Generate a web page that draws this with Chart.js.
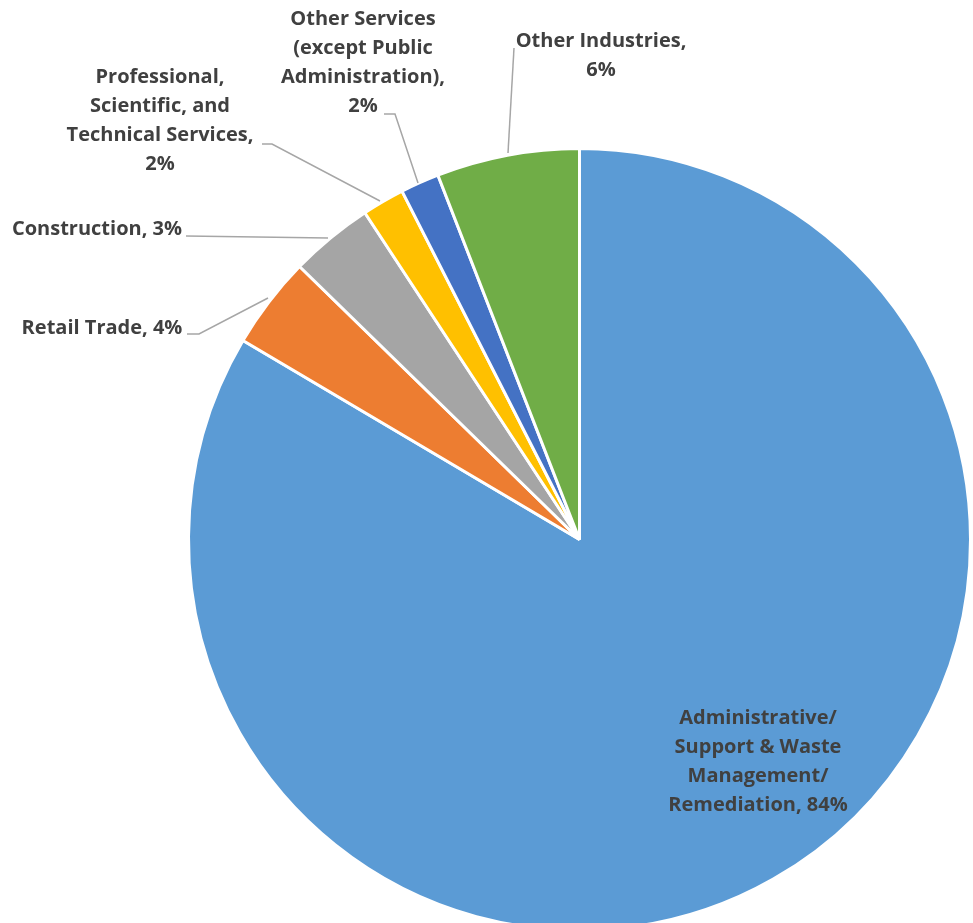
<!DOCTYPE html>
<html>
<head>
<meta charset="utf-8">
<script src="https://cdn.jsdelivr.net/npm/chart.js@4.4.1/dist/chart.umd.min.js"></script>
<style>
    html, body { margin: 0; padding: 0; background: #fff; overflow: hidden; }
    #wrap { position: absolute; left: 0; top: 0; width: 973px; height: 943px; }
</style>
</head>
<body>
<div id="wrap"><canvas id="pieChart"></canvas></div>
<script>
    // chart data
    const industries = [
        'Administrative/ Support & Waste Management/ Remediation',
        'Retail Trade',
        'Construction',
        'Professional, Scientific, and Technical Services',
        'Other Services (except Public Administration)',
        'Other Industries'
    ];
    const shares = [83.5, 3.8, 3.45, 1.75, 1.6, 5.9];
    const sliceColors = ['#5B9BD5', '#ED7D31', '#A5A5A5', '#FFC000', '#4472C4', '#70AD47'];

    // label layout: wrapped lines, centre x, first line y, leader line points
    const labelLayout = [
        { lines: ['Administrative/', 'Support & Waste', 'Management/', 'Remediation, {p}'], x: 758, y: 718, leader: null },
        { lines: ['Retail Trade, {p}'], x: 102, y: 328, leader: [[187, 334], [199, 334], [268, 298]] },
        { lines: ['Construction, {p}'], x: 97, y: 229, leader: [[186, 236], [328, 238]] },
        { lines: ['Professional,', 'Scientific, and', 'Technical Services,', '{p}'], x: 160, y: 77, leader: [[262, 144], [272, 144], [380, 201]] },
        { lines: ['Other Services', '(except Public', 'Administration),', '{p}'], x: 363, y: 19, leader: [[384, 114], [395, 114], [418, 183]] },
        { lines: ['Other Industries,', '{p}'], x: 601, y: 41, leader: [[514, 48], [508, 153]] }
    ];

    const labelPlugin = {
        id: 'pieLabels',
        afterDatasetsDraw(chart) {
            const ctx = chart.ctx;
            const data = chart.data.datasets[0].data;
            const total = data.reduce((a, b) => a + b, 0);
            ctx.save();
            ctx.strokeStyle = '#A6A6A6';
            ctx.lineWidth = 1.5;
            labelLayout.forEach(function (lbl, i) {
                if (lbl.leader) {
                    ctx.beginPath();
                    lbl.leader.forEach(function (p, k) {
                        if (k === 0) ctx.moveTo(p[0], p[1]); else ctx.lineTo(p[0], p[1]);
                    });
                    ctx.stroke();
                }
                const pct = Math.round(data[i] / total * 100) + '%';
                ctx.fillStyle = '#404040';
                ctx.font = 'bold 20px "Open Sans"';
                ctx.textAlign = 'center';
                ctx.textBaseline = 'middle';
                lbl.lines.forEach(function (line, k) {
                    ctx.fillText(line.replace('{p}', pct), lbl.x, lbl.y + k * 29);
                });
            });
            ctx.restore();
        }
    };

    const pieCtx = document.getElementById('pieChart').getContext('2d');
    const pieChart = new Chart(pieCtx, {
        type: 'pie',
        data: {
            labels: industries,
            datasets: [{
                data: shares,
                backgroundColor: sliceColors,
                borderColor: '#ffffff',
                borderWidth: 3
            }]
        },
        options: {
            responsive: true,
            maintainAspectRatio: false,
            animation: false,
            layout: { padding: { left: 187, right: 1, top: 147, bottom: 11 } },
            plugins: {
                legend: { display: false },
                tooltip: { enabled: false }
            }
        },
        plugins: [labelPlugin]
    });
</script>
</body>
</html>
